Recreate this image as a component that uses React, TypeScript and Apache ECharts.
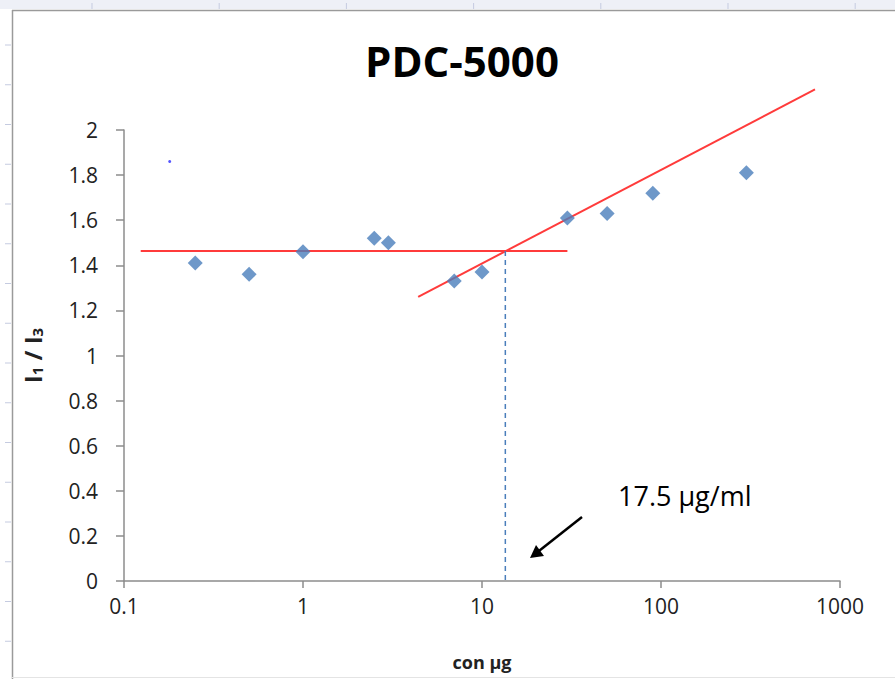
import React, { useEffect, useRef } from 'react';
import * as echarts from 'echarts';

// concentration (µg) vs I1/I3 ratio
const concentrations = [0.25, 0.5, 1, 2.5, 3, 7, 10, 30, 50, 90, 300];
const ratios = [1.41, 1.36, 1.46, 1.52, 1.5, 1.33, 1.37, 1.61, 1.63, 1.72, 1.81];
const strayX = [0.18];
const strayY = [1.86];
// fitted lines
const plateauX = [0.124, 30];
const plateauY = [1.463, 1.463];
const riseX = [4.4, 725];
const riseY = [1.26, 2.18];
// intersection (CMC)
const cmcX = [13.5, 13.5];
const cmcY = [1.463, 0];
const annotation = '17.5 µg/ml';
const titleText = 'PDC-5000';
const xName = 'con µg';

const zip = (a: number[], b: number[]) => a.map((v, i) => [v, b[i]]);

export default function App() {
  const ref = useRef<HTMLDivElement>(null);
  useEffect(() => {
    document.body.style.margin = '0';
    const chart = echarts.init(ref.current!, null, { renderer: 'svg' });
    const font = 'Open Sans';
    const leftTicks: any[] = [];
    for (let i = 0; i < 16; i++) {
      const y = 45 + i * 39.75;
      leftTicks.push({ type: 'line', shape: { x1: 5, y1: y, x2: 11, y2: y }, style: { stroke: '#c5cbe0', lineWidth: 1 } });
    }
    const topTicks: any[] = [];
    for (let i = 0; i < 7; i++) {
      const x = 92 + i * 127.2;
      topTicks.push({ type: 'line', shape: { x1: x, y1: 3, x2: x, y2: 9 }, style: { stroke: '#c5cbe0', lineWidth: 1 } });
    }
    chart.setOption({
      animation: false,
      backgroundColor: '#ffffff',
      title: {
        text: titleText,
        left: 457,
        top: 34,
        textAlign: 'center',
        textStyle: { fontFamily: font, fontWeight: 'bold', fontSize: 42, color: '#000' },
      },
      grid: { left: 124, right: 55, top: 130, bottom: 98, containLabel: false, outerBoundsMode: 'none' },
      xAxis: {
        type: 'log',
        logBase: 10,
        min: 0.1,
        max: 1000,
        name: xName,
        nameLocation: 'middle',
        nameGap: 72,
        nameTextStyle: { fontFamily: font, fontWeight: 'bold', fontSize: 18, color: '#222' },
        axisLine: { show: true, lineStyle: { color: '#8c8c8c', width: 1.5 } },
        axisTick: { show: true, length: 7, lineStyle: { color: '#8c8c8c', width: 1.5 } },
        axisLabel: {
          margin: 14,
          fontFamily: font,
          fontSize: 21,
          color: '#222',
          formatter: (v: number) => String(+Number(v).toPrecision(3)),
        },
        splitLine: { show: false },
        minorTick: { show: false },
      },
      yAxis: {
        type: 'value',
        min: 0,
        max: 2,
        interval: 0.2,
        name: '{b|I}{s|1}{b| / I}{s|3}',
        nameLocation: 'middle',
        nameGap: 80,
        nameRotate: 90,
        nameTextStyle: {
          rich: {
            b: { fontFamily: font, fontWeight: 'bold', fontSize: 24, color: '#222', verticalAlign: 'bottom', lineHeight: 28 },
            s: { fontFamily: font, fontWeight: 'bold', fontSize: 15, color: '#222', verticalAlign: 'bottom', lineHeight: 22 },
          },
        },
        axisLine: { show: true, lineStyle: { color: '#8c8c8c', width: 1.5 } },
        axisTick: { show: true, length: 8, lineStyle: { color: '#8c8c8c', width: 1.5 } },
        axisLabel: {
          margin: 26,
          fontFamily: font,
          fontSize: 21,
          color: '#222',
          formatter: (v: number) => String(+Number(v).toFixed(1)),
        },
        splitLine: { show: false },
      },
      series: [
        {
          type: 'line',
          data: zip(plateauX, plateauY),
          showSymbol: false,
          symbol: 'none',
          lineStyle: { color: '#ff3b3b', width: 2 },
          clip: false,
          z: 2,
        },
        {
          type: 'line',
          data: zip(riseX, riseY),
          showSymbol: false,
          symbol: 'none',
          lineStyle: { color: '#ff3b3b', width: 2 },
          clip: false,
          z: 2,
        },
        {
          type: 'line',
          data: zip(cmcX, cmcY),
          showSymbol: false,
          symbol: 'none',
          lineStyle: { color: '#4a7ebb', width: 1.5, type: [5, 4] },
          z: 2,
        },
        {
          type: 'scatter',
          data: zip(concentrations, ratios),
          symbol: 'diamond',
          symbolSize: 15,
          itemStyle: { color: '#4a7ebb' },
          z: 3,
        },
        {
          type: 'scatter',
          data: zip(strayX, strayY),
          symbol: 'circle',
          symbolSize: 3,
          itemStyle: { color: '#2c2cff' },
          z: 3,
        },
      ],
      graphic: [
        // worksheet frame
        { type: 'rect', shape: { x: 0, y: 0, width: 895, height: 9 }, style: { fill: '#eef0f7' }, silent: true },
        { type: 'line', shape: { x1: 12, y1: 10.5, x2: 895, y2: 10.5 }, style: { stroke: '#9a9a9a', lineWidth: 1.5 } },
        { type: 'line', shape: { x1: 12.5, y1: 10, x2: 12.5, y2: 679 }, style: { stroke: '#9a9a9a', lineWidth: 1.5 } },
        { type: 'line', shape: { x1: 12, y1: 677.5, x2: 895, y2: 677.5 }, style: { stroke: '#e4e4e4', lineWidth: 1 } },
        ...leftTicks,
        ...topTicks,
        // annotation
        {
          type: 'text',
          x: 618,
          y: 482,
          style: { text: annotation, fontFamily: font, fontSize: 27, fill: '#000' },
        },
        { type: 'line', shape: { x1: 582, y1: 517, x2: 537, y2: 552.5 }, style: { stroke: '#000', lineWidth: 2.5 } },
        {
          type: 'polygon',
          shape: { points: [[530, 558], [544, 556], [536, 545]] },
          style: { fill: '#000' },
        },
      ],
    });
    return () => chart.dispose();
  }, []);
  return <div ref={ref} style={{ width: 895, height: 679 }} />;
}
